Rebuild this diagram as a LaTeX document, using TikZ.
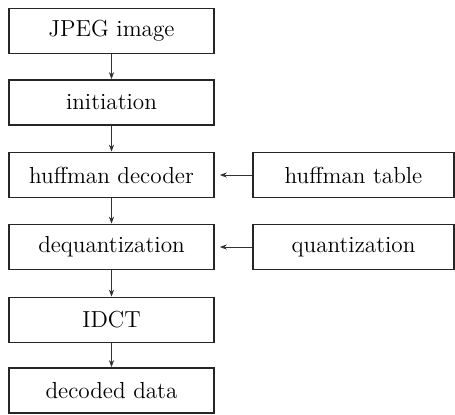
\documentclass[tikz,border=0pt]{standalone}
\usetikzlibrary{arrows.meta}
\begin{document}
\begin{tikzpicture}[x=0.5pt,y=-0.5pt,
  box/.style={draw=black!85,line width=0.9pt,minimum width=102.5pt,minimum height=22.5pt,inner sep=0pt,font=\fontsize{11.6}{13}\selectfont},
  rbox/.style={box,minimum width=100.5pt},
  arr/.style={draw=black!80,line width=0.4pt,-{Stealth[length=3.5pt,width=2.6pt]}}]
\useasboundingbox (0,0) rectangle (455,414);
\node[box] (jpeg) at (111.5,31) {JPEG image};
\node[box] (init) at (111.5,102.5) {initiation};
\node[box] (huff) at (111.5,175) {huffman decoder};
\node[box] (deq) at (111.5,247) {dequantization};
\node[box] (idct) at (111.5,320) {IDCT};
\node[box] (dec) at (111.5,390.5) {decoded data};
\node[rbox] (ht) at (353.5,175) {huffman table};
\node[rbox] (qt) at (353.5,247) {quantization};
\draw[arr] (jpeg) -- (init);
\draw[arr] (init) -- (huff);
\draw[arr] (huff) -- (deq);
\draw[arr] (deq) -- (idct);
\draw[arr] (idct) -- (dec);
\draw[arr,shorten >=2.5pt] (ht) -- (huff);
\draw[arr,shorten >=2.5pt] (qt) -- (deq);
\end{tikzpicture}
\end{document}
